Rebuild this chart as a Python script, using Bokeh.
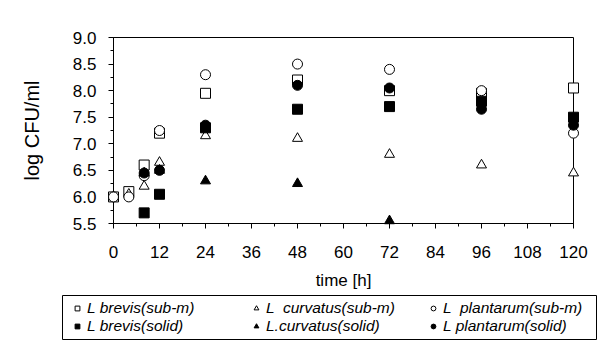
import numpy as np
from bokeh.plotting import figure
from bokeh.models import Legend, LegendItem, FixedTicker, Range1d, ColumnDataSource
from bokeh.embed import file_html
from bokeh.resources import INLINE

# --- data ---
time_h = [0, 4, 8, 12, 24, 48, 72, 96, 120]
brevis_sub = [6.0, 6.1, 6.6, 7.2, 7.95, 8.2, 8.0, 7.95, 8.05]
curvatus_sub = [6.0, 6.05, 6.2, 6.65, 7.15, 7.1, 6.8, 6.6, 6.45]
plantarum_sub = [6.0, 6.0, 6.4, 7.25, 8.3, 8.5, 8.4, 8.0, 7.2]
brevis_solid = [np.nan, np.nan, 5.7, 6.05, 7.3, 7.65, 7.7, 7.8, 7.5]
curvatus_solid = [np.nan, np.nan, 6.45, 6.5, 6.3, 6.25, 5.55, np.nan, np.nan]
plantarum_solid = [np.nan, np.nan, 6.45, 6.5, 7.35, 8.1, 8.05, 7.65, 7.35]

x_ticks = [0, 12, 24, 36, 48, 60, 72, 84, 96, 108, 120]
y_ticks = [5.5, 6.0, 6.5, 7.0, 7.5, 8.0, 8.5, 9.0]
y_tick_labels = {5.5: "5.5", 6.0: "6.0", 6.5: "6.5", 7.0: "7.0",
                 7.5: "7.5", 8.0: "8.0", 8.5: "8.5", 9.0: "9.0"}

labels = ["L brevis(sub-m)", "L  curvatus(sub-m)", "L  plantarum(sub-m)",
          "L brevis(solid)", "L.curvatus(solid)", "L plantarum(solid)"]

FONT = "Liberation Sans"

p = figure(width=597, height=295, output_backend="svg", toolbar_location=None,
           x_range=Range1d(0, 120), y_range=Range1d(5.5, 9.0),
           min_border_left=113, min_border_right=24, min_border_top=37,
           min_border_bottom=72)
p.grid.visible = False
p.outline_line_color = "black"
p.outline_line_width = 1
p.background_fill_color = "white"
p.border_fill_color = "white"

series = [
    (brevis_sub, "square", "white"),
    (curvatus_sub, "triangle", "white"),
    (plantarum_sub, "circle", "white"),
    (brevis_solid, "square", "black"),
    (curvatus_solid, "triangle", "black"),
    (plantarum_solid, "circle", "black"),
]
for vals, marker, fill in series:
    src = ColumnDataSource(dict(x=time_h, y=vals))
    p.scatter("x", "y", source=src, marker=marker, size=10,
              fill_color=fill, line_color="black", line_width=1,
              level="overlay")

# axes
xa = p.xaxis[0]
xa.ticker = FixedTicker(ticks=x_ticks, minor_ticks=list(range(0, 121, 6)))
xa.axis_label = "time [h]"
ya = p.yaxis[0]
ya.ticker = FixedTicker(ticks=y_ticks, minor_ticks=[5.5 + 0.25 * i for i in range(15)])
ya.major_label_overrides = y_tick_labels
ya.axis_label = "log CFU/ml"
for ax in (xa, ya):
    ax.axis_line_color = "black"
    ax.major_tick_line_color = "black"
    ax.minor_tick_line_color = "black"
    ax.major_tick_out = 5
    ax.major_tick_in = 0
    ax.minor_tick_out = 3
    ax.minor_tick_in = 0
    ax.major_label_text_font = FONT
    ax.major_label_text_font_size = "17px"
    ax.major_label_text_color = "black"
    ax.axis_label_text_font = FONT
    ax.axis_label_text_font_style = "normal"
    ax.axis_label_text_color = "black"
xa.axis_label_text_font_size = "17px"
ya.axis_label_text_font_size = "20px"
xa.major_label_standoff = 17
xa.axis_label_standoff = 10
ya.major_label_standoff = 12
ya.axis_label_standoff = 27

# legend strip below the chart (its frame outline is the legend box);
# the series are re-plotted here outside the visible range so the legend
# can show their glyphs.
lg = figure(width=597, height=45, output_backend="svg", toolbar_location=None,
            x_range=Range1d(0, 1), y_range=Range1d(0, 1),
            x_axis_type=None, y_axis_type=None,
            min_border_left=62, min_border_right=0, min_border_top=0,
            min_border_bottom=0)
lg.grid.visible = False
lg.outline_line_color = "black"
lg.outline_line_width = 1
lg.border_fill_color = "white"
lg.background_fill_color = "white"

col_x = [9, 188, 365]
for c in range(3):
    items = []
    for k in (c, c + 3):
        vals, marker, fill = series[k]
        src = ColumnDataSource(dict(x=time_h, y=vals))
        r = lg.scatter("x", "y", source=src, marker=marker, size=8,
                       fill_color=fill, line_color="black", line_width=1)
        items.append(LegendItem(label=labels[k], renderers=[r]))
    leg = Legend(items=items, orientation="vertical", location=(col_x[c], 5))
    leg.label_text_font = FONT
    leg.label_text_font_style = "italic"
    leg.label_text_font_size = "15.5px"
    leg.label_text_color = "black"
    leg.label_standoff = 4
    leg.glyph_width = 12
    leg.glyph_height = 12
    leg.label_height = 14
    leg.spacing = 0
    leg.padding = 2
    leg.margin = 0
    leg.border_line_color = None
    leg.background_fill_alpha = 0
    lg.add_layout(leg, "center")

open("out.html", "w").write(file_html([p, lg], INLINE))
